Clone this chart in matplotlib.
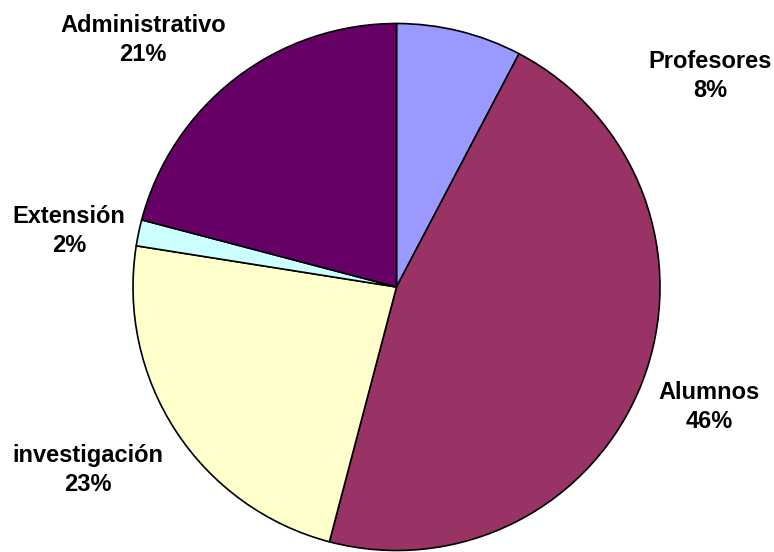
import matplotlib
matplotlib.use("Agg")
import matplotlib.pyplot as plt

categories = ["Profesores", "Alumnos", "investigación", "Extensión", "Administrativo"]
values = [7.7, 46.4, 23.4, 1.6, 20.9]
colors = ["#9999FF", "#993366", "#FFFFCC", "#CCFFFF", "#660066"]

W, H = 774, 552
fig = plt.figure(figsize=(W / 100, H / 100), dpi=100)
ax = fig.add_axes([0, 0, 1, 1])
ax.set_xlim(0, W)
ax.set_ylim(0, H)
ax.set_aspect("equal")
ax.axis("off")

cx, cy, r = 396.5, H - 287, 263.5
ax.pie(values, colors=colors, startangle=90, counterclock=False,
       center=(cx, cy), radius=r, frame=True,
       wedgeprops=dict(edgecolor="black", linewidth=1.2))
ax.set_xlim(0, W)
ax.set_ylim(0, H)
ax.axis("off")

# label block centres (pixels from top-left)
label_pos = [(710, 76), (709, 407), (88, 470), (69, 231), (143, 40)]
total = sum(values)
for name, v, (lx, ly) in zip(categories, values, label_pos):
    ax.text(lx, H - ly, f"{name}\n{v / total * 100:.0f}%", ha="center", va="center",
            fontsize=17, fontweight="bold", family="Liberation Sans",
            linespacing=1.3, color="black")

fig.savefig("out.png", dpi=100)
